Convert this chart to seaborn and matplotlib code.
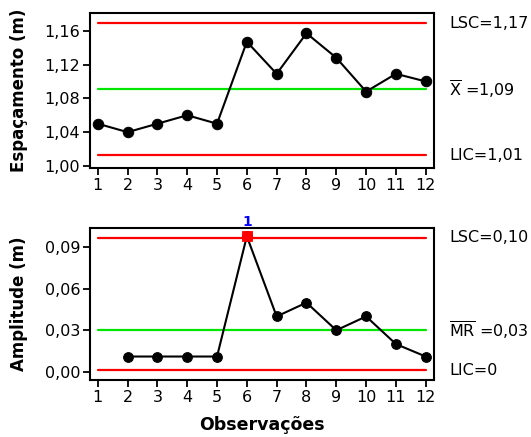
import numpy as np
import pandas as pd
import matplotlib
matplotlib.use('Agg')
import matplotlib.pyplot as plt
import seaborn as sns

# Individual values (top chart)
obs = list(range(1, 13))
espacamento = [1.05, 1.04, 1.05, 1.06, 1.05, 1.147, 1.109, 1.157, 1.128, 1.088, 1.109, 1.10]
lsc_i, media_i, lic_i = 1.169, 1.091, 1.0126

# Moving ranges (bottom chart)
obs_mr = list(range(2, 13))
amplitude = [0.011, 0.011, 0.011, 0.011, 0.098, 0.040, 0.050, 0.030, 0.040, 0.020, 0.011]
lsc_mr, media_mr, lic_mr = 0.097, 0.0305, 0.0012
fora_obs, fora_val = [6], [0.098]

top_yticks = [1.00, 1.04, 1.08, 1.12, 1.16]
bot_yticks = [0.00, 0.03, 0.06, 0.09]

sns.set_theme(style='white')
plt.rcParams['font.family'] = ['DejaVu Sans']
plt.rcParams['mathtext.default'] = 'regular'
plt.rcParams['text.color'] = 'black'
plt.rcParams['axes.labelcolor'] = 'black'

df_i = pd.DataFrame({'obs': obs, 'valor': espacamento})
df_mr = pd.DataFrame({'obs': obs_mr, 'valor': amplitude})

fig = plt.figure(figsize=(5.31, 4.37), dpi=100)
ax1 = fig.add_axes([0.1695, 0.6156, 0.648, 0.3547])
ax2 = fig.add_axes([0.1695, 0.1304, 0.648, 0.3485])

RED, GREEN = '#ff0000', '#00e600'
FS = 11.5

def limites(ax, lsc, media, lic):
    for y, c in [(lsc, RED), (media, GREEN), (lic, RED)]:
        ax.plot([1, 12], [y, y], color=c, lw=1.6, zorder=1)

def estilo(ax, yticks, ylim, fmt):
    ax.set_xlim(0.74, 12.28)
    ax.set_ylim(*ylim)
    ax.set_xticks(obs)
    ax.set_yticks(yticks)
    ax.set_yticklabels([fmt.format(v).replace('.', ',') for v in yticks])
    ax.tick_params(axis='both', which='both', direction='out', length=5, width=1.3,
                   colors='black', labelcolor='black', labelsize=FS,
                   left=True, bottom=True, pad=2)
    for s in ax.spines.values():
        s.set_color('black')
        s.set_linewidth(1.5)

# Top: individual values
limites(ax1, lsc_i, media_i, lic_i)
sns.lineplot(data=df_i, x='obs', y='valor', ax=ax1, color='black', lw=1.5,
             marker='o', markersize=7.5, markeredgecolor='black', zorder=3)
estilo(ax1, top_yticks, (0.9976, 1.181), '{:.2f}')
ax1.set_xlabel('')
ax1.set_ylabel('Espaçamento (m)', fontsize=12, fontweight='bold', labelpad=12)

# Bottom: moving ranges
limites(ax2, lsc_mr, media_mr, lic_mr)
sns.lineplot(data=df_mr, x='obs', y='valor', ax=ax2, color='black', lw=1.5,
             marker='o', markersize=7, markeredgecolor='black', zorder=3)
sns.scatterplot(x=fora_obs, y=fora_val, ax=ax2, marker='s', color=RED, s=55,
                edgecolor=RED, zorder=4)
for xo, yo in zip(fora_obs, fora_val):
    ax2.annotate('1', (xo, yo), xytext=(0, 5), textcoords='offset points',
                 ha='center', va='bottom', color='#0000ff', fontweight='bold', fontsize=10)
estilo(ax2, bot_yticks, (-0.006, 0.1042), '{:.2f}')
ax2.set_xlabel('Observações', fontsize=12.5, fontweight='bold', labelpad=8)
ax2.set_ylabel('Amplitude (m)', fontsize=12, fontweight='bold', labelpad=12)

# Right-side labels for control limits
tr1 = ax1.get_yaxis_transform()
ax1.text(1.043, lsc_i, 'LSC=1,17', transform=tr1, va='center', ha='left', fontsize=FS)
ax1.text(1.043, media_i, r'$\overline{X}$ =1,09', transform=tr1, va='center', ha='left', fontsize=FS)
ax1.text(1.043, lic_i, 'LIC=1,01', transform=tr1, va='center', ha='left', fontsize=FS)
tr2 = ax2.get_yaxis_transform()
ax2.text(1.043, lsc_mr, 'LSC=0,10', transform=tr2, va='center', ha='left', fontsize=FS)
ax2.text(1.043, media_mr, r'$\overline{M}\overline{R}$ =0,03', transform=tr2, va='center', ha='left', fontsize=FS)
ax2.text(1.043, lic_mr, 'LIC=0', transform=tr2, va='center', ha='left', fontsize=FS)

fig.savefig('out.png', dpi=100)
plt.close(fig)
